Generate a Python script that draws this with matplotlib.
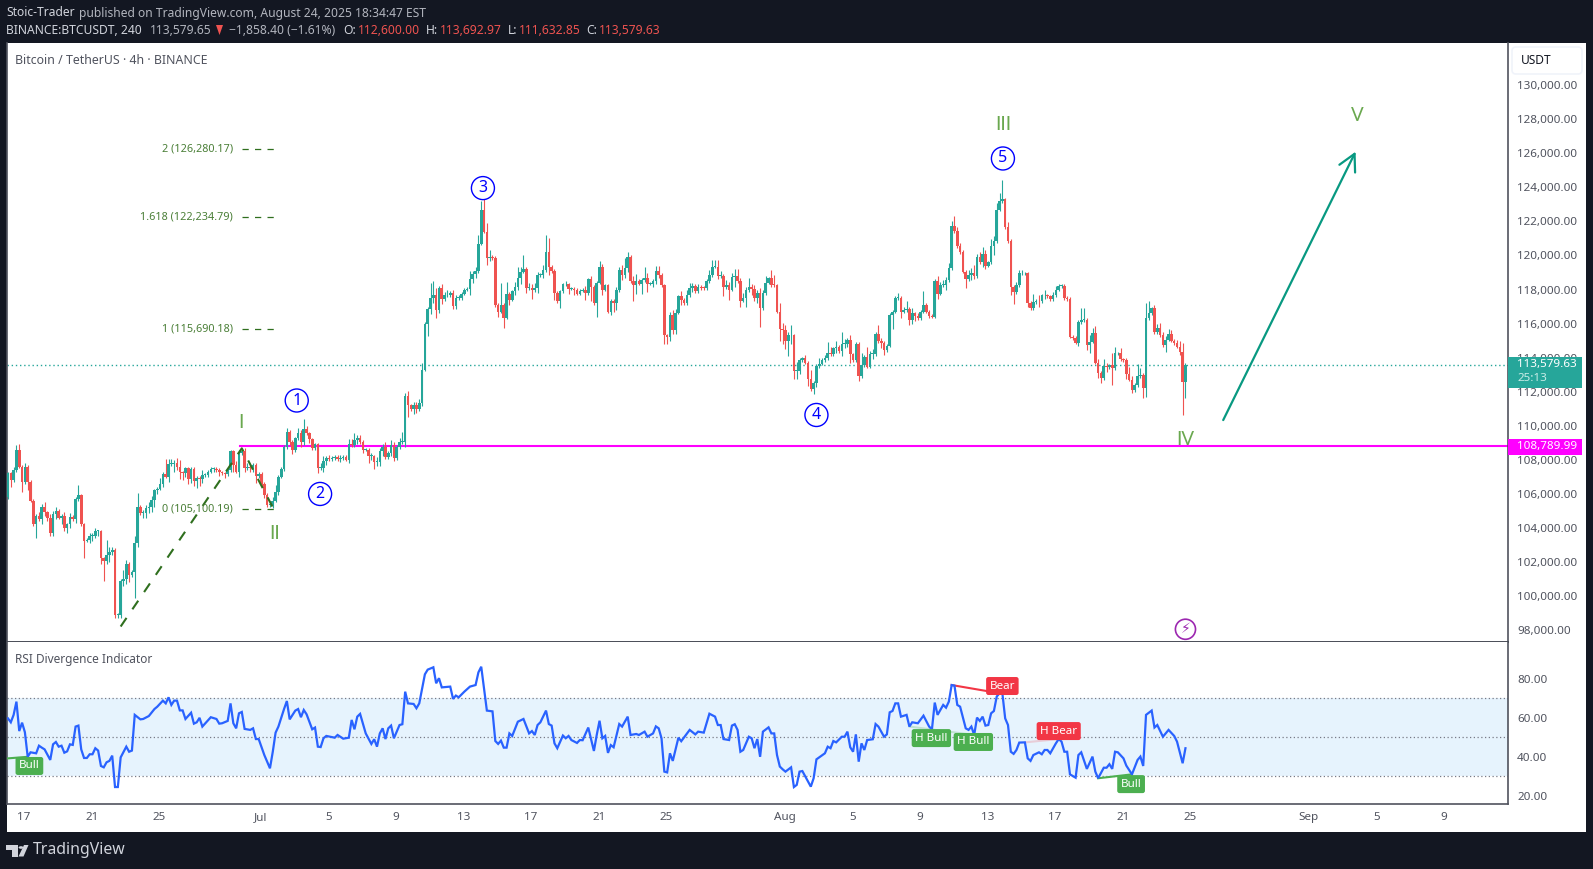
import matplotlib
matplotlib.use("Agg")
import matplotlib.pyplot as plt
from matplotlib.patches import Polygon, Circle, Rectangle, FancyBboxPatch
from matplotlib.transforms import IdentityTransform
import numpy as np

W, H = 1593, 869
FONT = "Noto Sans"
plt.rcParams["font.family"] = [FONT, "DejaVu Sans"]

# ── 4h candles, in thousands of USDT (open = previous close) ──────────
FIRST_OPEN = 105.8
closes = [
    107.2,106.8,107.4,108.6,107.6,106.7,107.6,106.7,105.6,104.2,
    104.7,104.5,105.2,104.9,104.6,103.7,104.8,105.0,104.6,104.7,
    104.0,104.2,104.65,104.5,105.7,105.9,104.2,103.25,103.3,103.5,
    103.5,103.8,103.8,102.2,102.05,102.4,102.6,102.7,98.9,98.9,
    100.9,101.0,101.9,101.2,101.4,103.1,105.25,104.85,104.85,105.15,
    105.2,105.65,106.2,106.3,106.6,107.15,107.0,107.75,107.75,107.8,
    107.6,107.25,107.2,107.5,106.85,107.45,106.75,106.95,106.85,107.1,
    107.1,107.3,107.45,107.45,107.4,107.25,107.2,107.15,107.4,108.5,
    107.7,107.3,108.4,108.5,107.5,107.6,107.5,107.7,107.05,107.15,
    106.6,105.95,105.35,105.35,105.6,106.1,107.0,107.45,108.75,109.65,
    109.05,108.55,109.25,109.55,109.05,109.8,109.55,109.2,108.7,108.9,
    107.5,107.5,107.9,108.1,108.05,108.1,108.15,108.05,108.1,108.15,
    108.0,108.9,108.85,109.15,109.25,109.05,108.6,108.6,108.2,108.2,
    107.85,107.85,108.5,108.75,108.15,108.4,108.85,108.1,108.75,109.05,
    109.05,111.75,111.2,110.97,111.2,110.97,111.35,113.3,115.98,116.85,
    117.5,117.7,116.8,118.1,117.45,117.65,117.65,117.8,117.05,117.5,
    117.5,117.75,118.0,118.05,118.6,118.9,119.1,120.7,122.7,121.4,
    119.85,119.9,119.85,117.1,116.7,117.1,116.35,117.75,117.4,117.9,
    118.15,118.7,119.05,119.2,118.1,118.1,117.95,118.1,118.85,118.85,
    119.15,120.2,119.35,119.1,117.8,117.3,117.9,118.3,118.3,118.05,
    118.05,117.97,117.75,117.93,118.0,117.8,118.6,118.15,117.2,118.4,
    119.3,118.0,118.25,116.7,117.35,117.2,117.97,119.15,118.85,119.25,
    119.93,118.5,118.25,118.5,118.35,118.55,118.7,118.35,118.35,118.5,
    119.1,118.85,118.25,115.3,115.2,116.5,115.6,116.65,117.6,117.4,
    117.2,117.67,118.07,118.2,117.9,118.15,118.1,118.07,118.5,118.85,
    119.35,119.35,118.8,118.8,118.13,118.25,118.0,118.75,118.8,118.5,
    117.35,117.5,117.95,118.15,118.05,117.5,117.8,116.9,117.8,118.4,
    118.65,118.27,118.25,116.7,115.66,115.6,115.0,115.3,115.3,113.23,
    113.23,113.85,113.95,113.7,112.75,112.15,112.5,113.5,113.65,113.85,
    113.95,114.3,114.2,114.55,114.65,114.4,114.78,114.8,115.03,114.2,
    113.85,114.8,112.9,113.57,114.05,113.47,114.2,114.2,115.4,114.95,
    114.85,114.45,114.7,116.5,116.7,117.5,117.5,116.7,116.8,116.85,
    116.2,116.6,116.45,116.3,116.7,117.1,116.7,116.45,116.4,118.5,
    117.75,118.25,118.25,118.55,119.25,121.73,121.45,120.55,120.2,119.05,
    118.6,118.85,118.95,118.8,119.9,119.6,120.1,119.4,119.6,120.55,
    120.85,122.7,123.2,123.3,121.65,120.85,118.15,117.85,118.25,118.95,
    118.95,118.95,117.2,116.9,117.25,117.35,117.3,117.65,117.65,117.6,
    117.45,117.65,118.0,118.2,118.2,117.5,117.45,115.23,115.15,114.88,
    116.1,116.2,116.2,114.75,114.93,115.45,113.7,113.1,112.8,113.5,
    113.45,113.55,113.4,114.25,114.25,113.9,113.85,113.05,112.7,112.1,
    112.4,112.9,113.0,112.2,116.3,116.6,116.9,115.5,115.75,115.3,
    114.75,115.05,115.4,115.0,114.85,114.65,114.35,112.55,113.58,
]
upper_wick = [
    .1,.1,.2,.25,.3,.1,.2,.1,.1,.1,
    .1,.2,.2,.3,.1,.2,.2,.2,.1,.1,
    .2,.1,.2,.1,.1,.6,.1,.1,.1,.2,
    .2,.2,.1,.1,.1,.9,.3,.2,.1,.1,
    .1,.5,.2,.1,.1,.4,.8,.1,.2,.2,
    .3,.2,.1,.1,.3,.1,.9,.3,.3,.2,
    .3,.4,.1,.1,.1,.1,.1,.1,.1,.3,
    .1,.1,.1,.1,.1,.1,.1,.1,.1,.1,
    .1,.2,.2,.1,.2,.2,.1,.1,.1,.1,
    .1,.1,.1,.1,.2,.4,.1,.1,.1,.2,
    .1,.1,.1,.3,.2,.6,.2,.1,.1,.1,
    .1,.3,.3,.1,.2,.1,.1,.1,.2,.1,
    .1,.3,.3,.4,.2,.2,.1,.1,.1,.2,
    .1,.3,.2,.2,.3,.1,.3,.2,.1,.2,
    .6,.2,.3,.1,.2,.2,.2,.4,.1,.1,
    .9,.8,.4,.1,.2,.2,.3,.1,.2,.2,
    .2,.1,.1,.1,.5,.2,.2,.5,.5,.6,
    .5,.4,.1,.1,.1,1.3,.1,.7,.1,.1,
    .3,.6,.3,.8,.1,.3,.2,.3,.2,.1,
    .3,1.0,.8,.1,.1,.1,.1,.1,.2,.1,
    .1,.1,.1,.1,.1,.2,.1,.2,.1,.1,
    .4,.2,.1,.1,.1,.1,.2,.2,.3,.6,
    .3,.1,.3,.4,.1,.1,.6,.3,.1,.1,
    .3,.3,.1,.1,.1,.2,.3,.2,.1,.3,
    .1,.3,.3,.2,.1,.2,.1,.1,.1,.3,
    .4,.4,.4,.3,.1,.3,.2,.2,.4,.4,
    .2,.3,.2,.5,.2,.2,.2,.3,.2,.4,
    .1,.5,.6,.1,.5,.4,.3,.2,.6,.1,
    .5,.1,.1,.2,.1,.5,.1,.1,.3,.1,
    .2,.6,.3,.1,.3,.1,.7,.3,.1,.3,
    .1,.1,.1,.7,.1,.6,.2,.3,.1,.5,
    .2,.1,.1,.1,.1,.1,.3,.1,.2,.5,
    .1,.3,.1,.2,.1,.8,.1,.1,.1,.1,
    .3,.2,.3,.2,.3,.3,.6,.2,.2,.1,
    .1,.3,.3,.5,.2,.3,.4,.2,.1,.4,
    .3,.4,.45,1.15,.1,.3,.1,.1,.2,.2,
    .2,.1,.1,.1,.5,.1,.3,.1,.3,.1,
    .1,.2,.2,.1,.1,.1,.1,.1,.1,.1,
    .1,.7,.7,.1,.4,.3,.4,.2,.1,.4,
    .2,.1,.7,.4,.1,.3,.1,.1,.4,.2,
    .1,.7,.4,.1,.9,.7,.1,.2,.2,.3,
    .2,.2,.3,.2,.1,.2,.3,.5,.1,
]
lower_wick = [
    .1,.4,.1,.1,.1,.6,.1,.5,.1,.1,
    .8,.1,.3,.2,.2,.2,.2,.3,.1,.4,
    .2,.3,.2,.1,.2,.1,.1,1.0,.1,.2,
    .3,.1,.3,.3,1.2,.2,.4,.2,.2,.2,
    .2,.3,.3,.4,.1,1.5,.2,.1,.3,.3,
    .3,.3,.4,.2,.1,.2,.1,.3,.1,.5,
    .2,.4,.4,.2,.3,.2,.3,.4,.4,.2,
    .1,.1,.1,.2,.1,.2,.1,.2,.1,.1,
    .4,.1,.3,.1,.2,.1,.2,.2,.4,.1,
    .2,.2,.1,.1,.2,.1,.2,.1,.1,.1,
    .2,.2,.1,.1,.3,.2,.1,.2,.1,.1,
    .3,.1,.2,.2,.1,.1,.1,.1,.2,.1,
    .1,.2,.1,.1,.2,.1,.2,.1,.4,.2,
    .4,.2,.2,.3,.1,.1,.2,.2,.1,.1,
    .1,.3,.7,.1,.3,.2,.1,.2,.1,.7,
    .3,.3,.5,.2,.3,.1,.1,.1,.2,.2,
    .1,.1,.1,.1,.4,.2,.2,.1,.1,.1,
    .4,.2,.1,.1,.3,.1,.6,.1,.3,.1,
    .2,.2,.4,.1,.3,.1,.5,.1,.3,.1,
    .2,.1,.5,.1,.4,.1,.4,.1,.1,.3,
    .1,.3,.1,.1,.1,.4,.1,.8,.1,.8,
    .1,.3,.1,.1,.2,.5,.4,.1,.3,.2,
    .2,.1,.9,.5,.1,.6,.1,.5,.1,.2,
    .2,.2,.1,.5,.4,.2,.2,.2,.1,.3,
    .1,.1,.1,.2,.1,.1,.1,.1,.1,.1,
    .1,.1,.2,.1,.5,.1,.6,.1,.6,.1,
    .4,.1,.5,.1,.4,.2,.3,1.1,.1,.1,
    .1,.1,.1,.1,.7,.8,.5,.9,.5,.5,
    .5,.2,.1,.1,.4,.1,.3,.2,.1,.1,
    .1,.1,.1,.1,.3,.1,.3,.2,.2,.5,
    .1,.1,.3,.1,.1,.1,.1,.3,.1,.1,
    .3,.3,.1,.1,.8,.1,.1,.4,.1,.1,
    .3,.2,.3,.1,.1,.1,.1,.1,.1,.1,
    .3,.1,.1,.3,.1,.1,.1,.1,.1,.1,
    .5,.1,.3,.2,.1,.1,.3,.2,.1,.1,
    .5,.1,.1,.1,.1,.1,.5,.7,.1,.1,
    .1,.1,.2,.1,.1,.1,.3,.1,.2,.1,
    .1,.1,.1,.1,.1,.1,.1,.1,.1,.1,
    .2,.1,.1,.3,.5,.1,.1,.3,.3,.1,
    .3,.1,1.0,.1,.1,.1,.1,.3,.1,.2,
    .1,.1,.1,.6,.5,.1,.1,.1,.1,.1,
    .1,.4,.1,.1,.1,.1,.2,1.9,.9,
]

# ── RSI vertices (bar index, value) ───────────────────────────────────
rsi_bars = [
    0,1,2,3,4,5,6,7,8,10,11,12,13,15,16,17,18,19,20,21,22,23,24,25,26,27,28,29,30,31,
    32,33,34,35,36,37,38,39,40,42,43,44,45,47,48,50,52,53,55,56,57,58,59,60,61,62,63,65,66,67,
    68,69,72,74,75,76,78,79,80,81,82,83,84,86,87,88,89,91,93,94,95,96,98,99,100,102,103,104,105,106,
    108,109,110,111,112,113,116,117,119,121,122,123,124,125,127,129,130,131,132,133,134,135,136,137,139,140,141,142,144,145,
    146,148,149,151,152,153,154,157,158,159,160,162,164,166,167,168,170,172,173,174,175,176,177,178,179,181,183,185,186,187,
    188,189,191,192,193,194,195,197,198,199,200,202,203,204,206,208,209,210,211,212,213,214,215,217,218,220,221,223,224,226,
    227,229,230,231,232,233,234,235,236,238,239,242,244,245,247,249,251,252,253,254,256,257,258,259,260,261,263,264,265,266,
    267,268,270,271,272,273,274,275,276,278,279,280,281,282,284,285,286,287,290,291,292,293,294,296,297,298,299,300,301,302,
    303,304,305,307,308,309,311,312,313,314,315,316,317,319,320,321,323,325,327,328,329,330,332,333,334,335,336,337,338,340,
    341,342,343,344,345,346,347,348,349,350,351,352,353,354,355,356,357,358,359,361,362,363,364,366,367,368,369,370,372,373,
    374,375,376,377,379,380,381,383,385,386,387,389,390,391,392,393,394,396,397,399,401,402,403,404,406,407,408,410,412,414,
    415,417,418,
]
rsi_values = [
    59.7,57.7,61.5,68.3,53.2,57.5,52.6,40,42.3,41.8,45.7,44.7,43.8,38.4,46.4,47.6,45.2,45.7,42.1,42.8,46.4,46.1,55.5,56,43.8,39.4,39.4,41.3,41.3,44.4,
    43.2,35.3,34.6,37.2,37.9,40.6,24.5,24.5,39.7,45.2,42.6,43.2,61.5,59.2,59.4,60.9,64.5,65.7,68.8,67.4,70.5,66.6,68.8,68.8,63.8,63.8,59.4,62.6,57,57.7,
    60,55.5,60.3,59.4,57,57.2,58.4,67.4,57.2,54.6,62.3,63,54.3,53.8,54.6,49.1,49.1,40.9,34.1,42.6,52.4,55.5,64.5,68.6,59.2,63.7,64.5,60.3,64,61.8,
    54.1,55,45.2,45,49.5,50.7,49.8,51.2,49.3,49.8,58.9,54.1,60.6,62,52,46.6,49,45.2,52,54.6,49.1,54.6,56,49.5,56.3,56.7,73.4,67.4,67.1,64.9,
    67.4,82.3,84.7,85.9,77.7,80.3,75.6,76,69.7,71.4,70.5,73.4,76,76.8,83.3,86.2,63.7,63.3,48.1,46.6,48.3,44.7,44.7,52,50.7,58,59.4,52,53.2,51.2,
    56.3,57.7,63.7,56.8,56,46.9,44.4,50.9,49.5,50.7,48.6,47.1,48.6,48.5,55,43,51.2,58.5,49.5,50.7,42,46,44.9,56.8,55.5,60.6,51.2,51.7,51.2,52.9,
    50.3,52,55.6,54.6,49.5,32.4,32,41.8,37.9,49.8,48,53.8,51.5,52.9,52.4,62.1,60.6,56.3,56.3,49.1,48.6,56,56.7,53.8,42.6,43.5,50.3,49.5,44.4,49.1,
    40,52.9,55.1,52,52,40.9,35,33.6,32.4,34.6,24.5,25.6,32.4,32.7,27.3,24.7,29,38.7,41.8,45.2,44.4,48.1,47.4,50.3,50.3,52.9,44.9,42.6,51.5,37.5,
    46.9,43.5,48.6,49,56.8,55.5,50.3,51.5,62.8,63.5,67.4,67.4,60.6,61.5,55.5,57.7,57.2,61.1,55.5,54.1,67.8,61.5,66.6,65.2,68.3,76.8,76.5,66.6,65.7,54.6,
    53.8,55.5,51.2,60.1,58.4,60.6,56,56.3,62.3,63.5,70.9,72.6,72.6,59.7,56.3,42.6,41.5,43.5,47.3,47.4,39.2,37.9,40.9,42.3,41.3,43.5,43.5,41.8,46.9,49.1,
    47.8,42.6,42.6,31,29.3,40.9,42.3,33.8,40.1,32.4,29,34.4,34.4,36.2,33.8,42.6,42.3,39.2,35.5,31,38.4,40.1,35.3,61.5,63.7,55,56.3,50.3,53.8,50.7,
    47.8,36.7,44.4,
]

# ── axes content ──────────────────────────────────────────────────────
price_ticks = list(range(98000, 130001, 2000))
rsi_ticks = [20, 40, 60, 80]
tick_days = [0, 4, 8, 14, 18, 22, 26, 30, 34, 38, 45, 49, 53, 57, 61, 65, 69, 76, 80, 84]
tick_labels = ["17", "21", "25", "Jul", "5", "9", "13", "17", "21", "25",
               "Aug", "5", "9", "13", "17", "21", "25", "Sep", "5", "9"]

support_level = 108789.99
last_close = 113579.63

fib_levels = [105100.19, 115690.18, 122234.79, 126280.17]
fib_labels = ["0 (105,100.19)", "1 (115,690.18)", "1.618 (122,234.79)", "2 (126,280.17)"]
fib_leg_bars = [40, 83, 94.5]
fib_leg_prices = [98200, 108670, 105050]

wave_circles = [("1", 102.5, 111480), ("2", 110.8, 105990), ("3", 168.6, 123960),
                ("4", 287, 110630), ("5", 353.2, 125700)]
wave_romans = [("I", 82.7, 110160), ("II", 94.8, 103640), ("III", 353.5, 127670),
               ("IV", 418, 109160), ("V", 478.9, 128200)]
arrow_bars = [431.4, 478.4]
arrow_prices = [110330, 126100]

# label text, bar, rsi, colour
rsi_tags = [("Bull", 7.6, 35.3, "#4caf50"), ("H Bull", 327.8, 49.6, "#4caf50"),
            ("H Bull", 342.7, 47.6, "#4caf50"), ("Bear", 353, 76.3, "#f23645"),
            ("H Bear", 373, 53.2, "#f23645"), ("Bull", 398.7, 26, "#4caf50")]
# bar0, rsi0, bar1, rsi1, colour, alpha
rsi_divs = [(0, 39.2, 7, 40, "#4caf50", 1), (320, 55.5, 343, 51.2, "#4caf50", 0.25),
            (335, 76.8, 352, 72.6, "#f23645", 1), (361, 47.4, 373, 49.1, "#f23645", 0.2),
            (387, 29, 399, 31, "#4caf50", 1)]

UP, DOWN = "#26a69a", "#ef5350"
BG = "#131722"
TEXT = "#50535e"
BORDER = "#50535e"
ROMAN = "#6aa84f"
FIB = "#2f6f1e"
SCALE_SIZE = 8.4


def fx(x):
    return x / W


def fy(y):
    return 1 - y / H


def box(fig, x0, y0, x1, y1, color, zorder=1):
    fig.add_artist(Rectangle((fx(x0), fy(y1)), (x1 - x0) / W, (y1 - y0) / H,
                             transform=fig.transFigure, fc=color, ec="none", zorder=zorder))


def label(fig, x, y, s, color, size=8.7, weight="normal", ha="left", zorder=6):
    fig.text(fx(x), fy(y), s, color=color, fontsize=size, fontweight=weight,
             ha=ha, va="center", zorder=zorder)


fig = plt.figure(figsize=(W / 100, H / 100), dpi=100, facecolor=BG)
box(fig, 7, 43, 1586, 832, "white", zorder=-1)

ax = fig.add_axes([fx(7), fy(642), 1501 / W, 599 / H], facecolor="white")
ax_rsi = fig.add_axes([fx(7), fy(804), 1501 / W, 162 / H], facecolor="white")

XLIM = (-0.35, 532.5)
BAR0 = 5.7

# ── candles ───────────────────────────────────────────────────────────
c = np.array(closes) * 1000
o = np.concatenate([[FIRST_OPEN * 1000], c[:-1]])
hi = np.maximum(o, c) + np.array(upper_wick) * 1000
lo = np.minimum(o, c) - np.array(lower_wick) * 1000
x = np.arange(len(c))
colors = [UP if cc >= oo else DOWN for oo, cc in zip(o, c)]

ax.axhline(support_level, xmin=(82.3 - XLIM[0]) / (XLIM[1] - XLIM[0]), color="#ff00ff", lw=1.5, zorder=1)
ax.axhline(last_close, color=UP, lw=1, ls=(0, (1, 2)), zorder=1)
ax.vlines(x, lo, hi, colors=colors, lw=0.8, zorder=2)
ax.bar(x, np.maximum(np.abs(c - o), 50), bottom=np.minimum(o, c), width=0.92, color=colors, lw=0, zorder=3)

# ── fib retracement drawing ───────────────────────────────────────────
ax.plot(fib_leg_bars, fib_leg_prices, color=FIB, lw=1.5, ls=(0, (5, 5)), zorder=4)
for lvl, txt in zip(fib_levels, fib_labels):
    ax.plot([83, 94.7], [lvl, lvl], color=FIB, lw=0.9, ls=(0, (5, 5)), zorder=4)
    ax.annotate(txt, (79.9, lvl), color="#4a7f37", fontsize=7.8, ha="right", va="center", zorder=5)

# ── wave labels ───────────────────────────────────────────────────────
for s, b, p in wave_circles:
    ax.text(b, p, s, color="#0000ff", fontsize=11.5, ha="center", va="center", zorder=6,
            bbox=dict(boxstyle="circle,pad=0.22", fc="white", ec="#0000ff", lw=1))
for s, b, p in wave_romans:
    ax.text(b, p, s, color=ROMAN, fontsize=13.5, family=["Lato"], ha="center", va="center", zorder=6)

ax.annotate("", xy=(arrow_bars[1], arrow_prices[1]), xytext=(arrow_bars[0], arrow_prices[0]),
            arrowprops=dict(arrowstyle="->,head_length=0.85,head_width=0.45", color="#089981",
                            lw=1.6, mutation_scale=14, shrinkA=0, shrinkB=0), zorder=6)
ax.text(418, 98040, "\u26a1", family=["DejaVu Sans"], color="#9c27b0", fontsize=10, ha="center", va="center",
        zorder=6, bbox=dict(boxstyle="circle,pad=0.22", fc="white", ec="#9c27b0", lw=1.2))

ax.set_xlim(XLIM)
ax.set_ylim(97291, 132485)
ax.set_xticks([])
ax.yaxis.tick_right()
ax.set_yticks(price_ticks)
ax.set_yticklabels([f"{t:,.2f}" for t in price_ticks])
ax.tick_params(axis="y", length=0, pad=6.5, labelsize=SCALE_SIZE, labelcolor=TEXT)
for name, sp in ax.spines.items():
    sp.set_visible(name in ("right", "bottom", "left"))
    sp.set_color(BORDER if name != "bottom" else "#2a2e39")
    sp.set_linewidth(1.2)

# ── RSI pane ──────────────────────────────────────────────────────────
ax_rsi.axhspan(30, 70, color="#2196f3", alpha=0.11, lw=0, zorder=1)
for lvl in (30, 50, 70):
    ax_rsi.axhline(lvl, color="#787b86", lw=0.9, ls=(0, (1, 2)), zorder=2)
for b0, r0, b1, r1, col, alpha in rsi_divs:
    ax_rsi.plot([b0, b1], [r0, r1], color=col, alpha=alpha, lw=1.5, zorder=3)
ax_rsi.plot(rsi_bars, rsi_values, color="#2962ff", lw=1.6, zorder=4, solid_joinstyle="miter")
for s, b, r, col in rsi_tags:
    ax_rsi.text(b, r, s, color="white", fontsize=8.4, ha="center", va="center", zorder=5,
                bbox=dict(boxstyle="round,pad=0.3,rounding_size=0.2", fc=col, ec="none"))

ax_rsi.set_xlim(XLIM)
ax_rsi.set_ylim(15.8, 98.87)
ax_rsi.set_xticks([BAR0 + d * 6 for d in tick_days])
ax_rsi.set_xticklabels(tick_labels)
for t, s in zip(ax_rsi.get_xticklabels(), tick_labels):
    if s in ("Jul", "Aug", "Sep"):
        t.set_fontweight("medium")
ax_rsi.tick_params(axis="x", length=0, pad=6, labelsize=SCALE_SIZE, labelcolor=TEXT)
ax_rsi.yaxis.tick_right()
ax_rsi.set_yticks(rsi_ticks)
ax_rsi.set_yticklabels([f"{t:.2f}" for t in rsi_ticks])
ax_rsi.tick_params(axis="y", length=0, pad=6.5, labelsize=SCALE_SIZE, labelcolor=TEXT)
for name, sp in ax_rsi.spines.items():
    sp.set_visible(name in ("right", "bottom", "left"))
    sp.set_color(BORDER)
    sp.set_linewidth(1.2)

# ── panel texts ───────────────────────────────────────────────────────
label(fig, 15, 60, "Bitcoin / TetherUS · 4h · BINANCE", TEXT, size=8.85)
label(fig, 15, 659.5, "RSI Divergence Indicator", TEXT, size=8.55)
fig.add_artist(FancyBboxPatch((1512, H - 74), 70, 27, boxstyle="round,pad=0,rounding_size=4",
                              transform=IdentityTransform(), fc="white", ec="#f0f3fa", lw=1.2, zorder=5))
label(fig, 1521, 61, "USDT", BG, size=8.6)

# ── price scale tags ──────────────────────────────────────────────────
box(fig, 1508, 357, 1582, 387.5, UP, zorder=5)
label(fig, 1517, 365, "113,579.63", "white", size=SCALE_SIZE, weight="medium")
label(fig, 1517, 378.5, "25:13", "#c8ece7", size=SCALE_SIZE)
box(fig, 1508, 439, 1582, 455, "#ff00ff", zorder=5)
label(fig, 1517, 447, "108,789.99", "white", size=SCALE_SIZE, weight="bold")

# ── header ────────────────────────────────────────────────────────────
LIGHT, GREY, RED = "#d1d4dc", "#b2b5be", "#ef5350"
label(fig, 6, 13, "Stoic-Trader", LIGHT, weight="bold")
label(fig, 79, 13, "published on TradingView.com, August 24, 2025 18:34:47 EST", GREY)
label(fig, 6, 30, "BINANCE:BTCUSDT, 240", LIGHT, weight="medium")
label(fig, 150, 30, "113,579.65", GREY)
fig.add_artist(Polygon([(fx(216), fy(25)), (fx(223), fy(25)), (fx(219.5), fy(35))],
                       transform=fig.transFigure, fc=RED, ec="none", zorder=6))
label(fig, 229, 30, "\u22121,858.40 (\u22121.61%)", GREY)
for lx, ltxt, vx, vtxt in [(343, "O:", 358, "112,600.00"), (426, "H:", 440, "113,692.97"),
                           (508, "L:", 519, "111,632.85"), (586, "C:", 599, "113,579.63")]:
    label(fig, lx, 30, ltxt, LIGHT, weight="medium")
    label(fig, vx, 30, vtxt, RED)

# ── footer logo ───────────────────────────────────────────────────────
for poly in ([(6, 845), (17.5, 845), (17.5, 856.5), (11.5, 856.5), (11.5, 850), (6, 850)],
             [(24, 845), (28.5, 845), (23.5, 856.5), (18.5, 856.5)]):
    fig.add_artist(Polygon([(fx(a), fy(b)) for a, b in poly], transform=fig.transFigure,
                           fc=LIGHT, ec="none", zorder=6))
fig.add_artist(Circle((fx(21), fy(847.5)), 2.4 / W, transform=fig.transFigure, fc=LIGHT, ec="none", zorder=6))
label(fig, 33, 850.5, "TradingView", LIGHT, size=11.4, weight="semibold")

fig.savefig("out.png", dpi=100, facecolor=BG)
